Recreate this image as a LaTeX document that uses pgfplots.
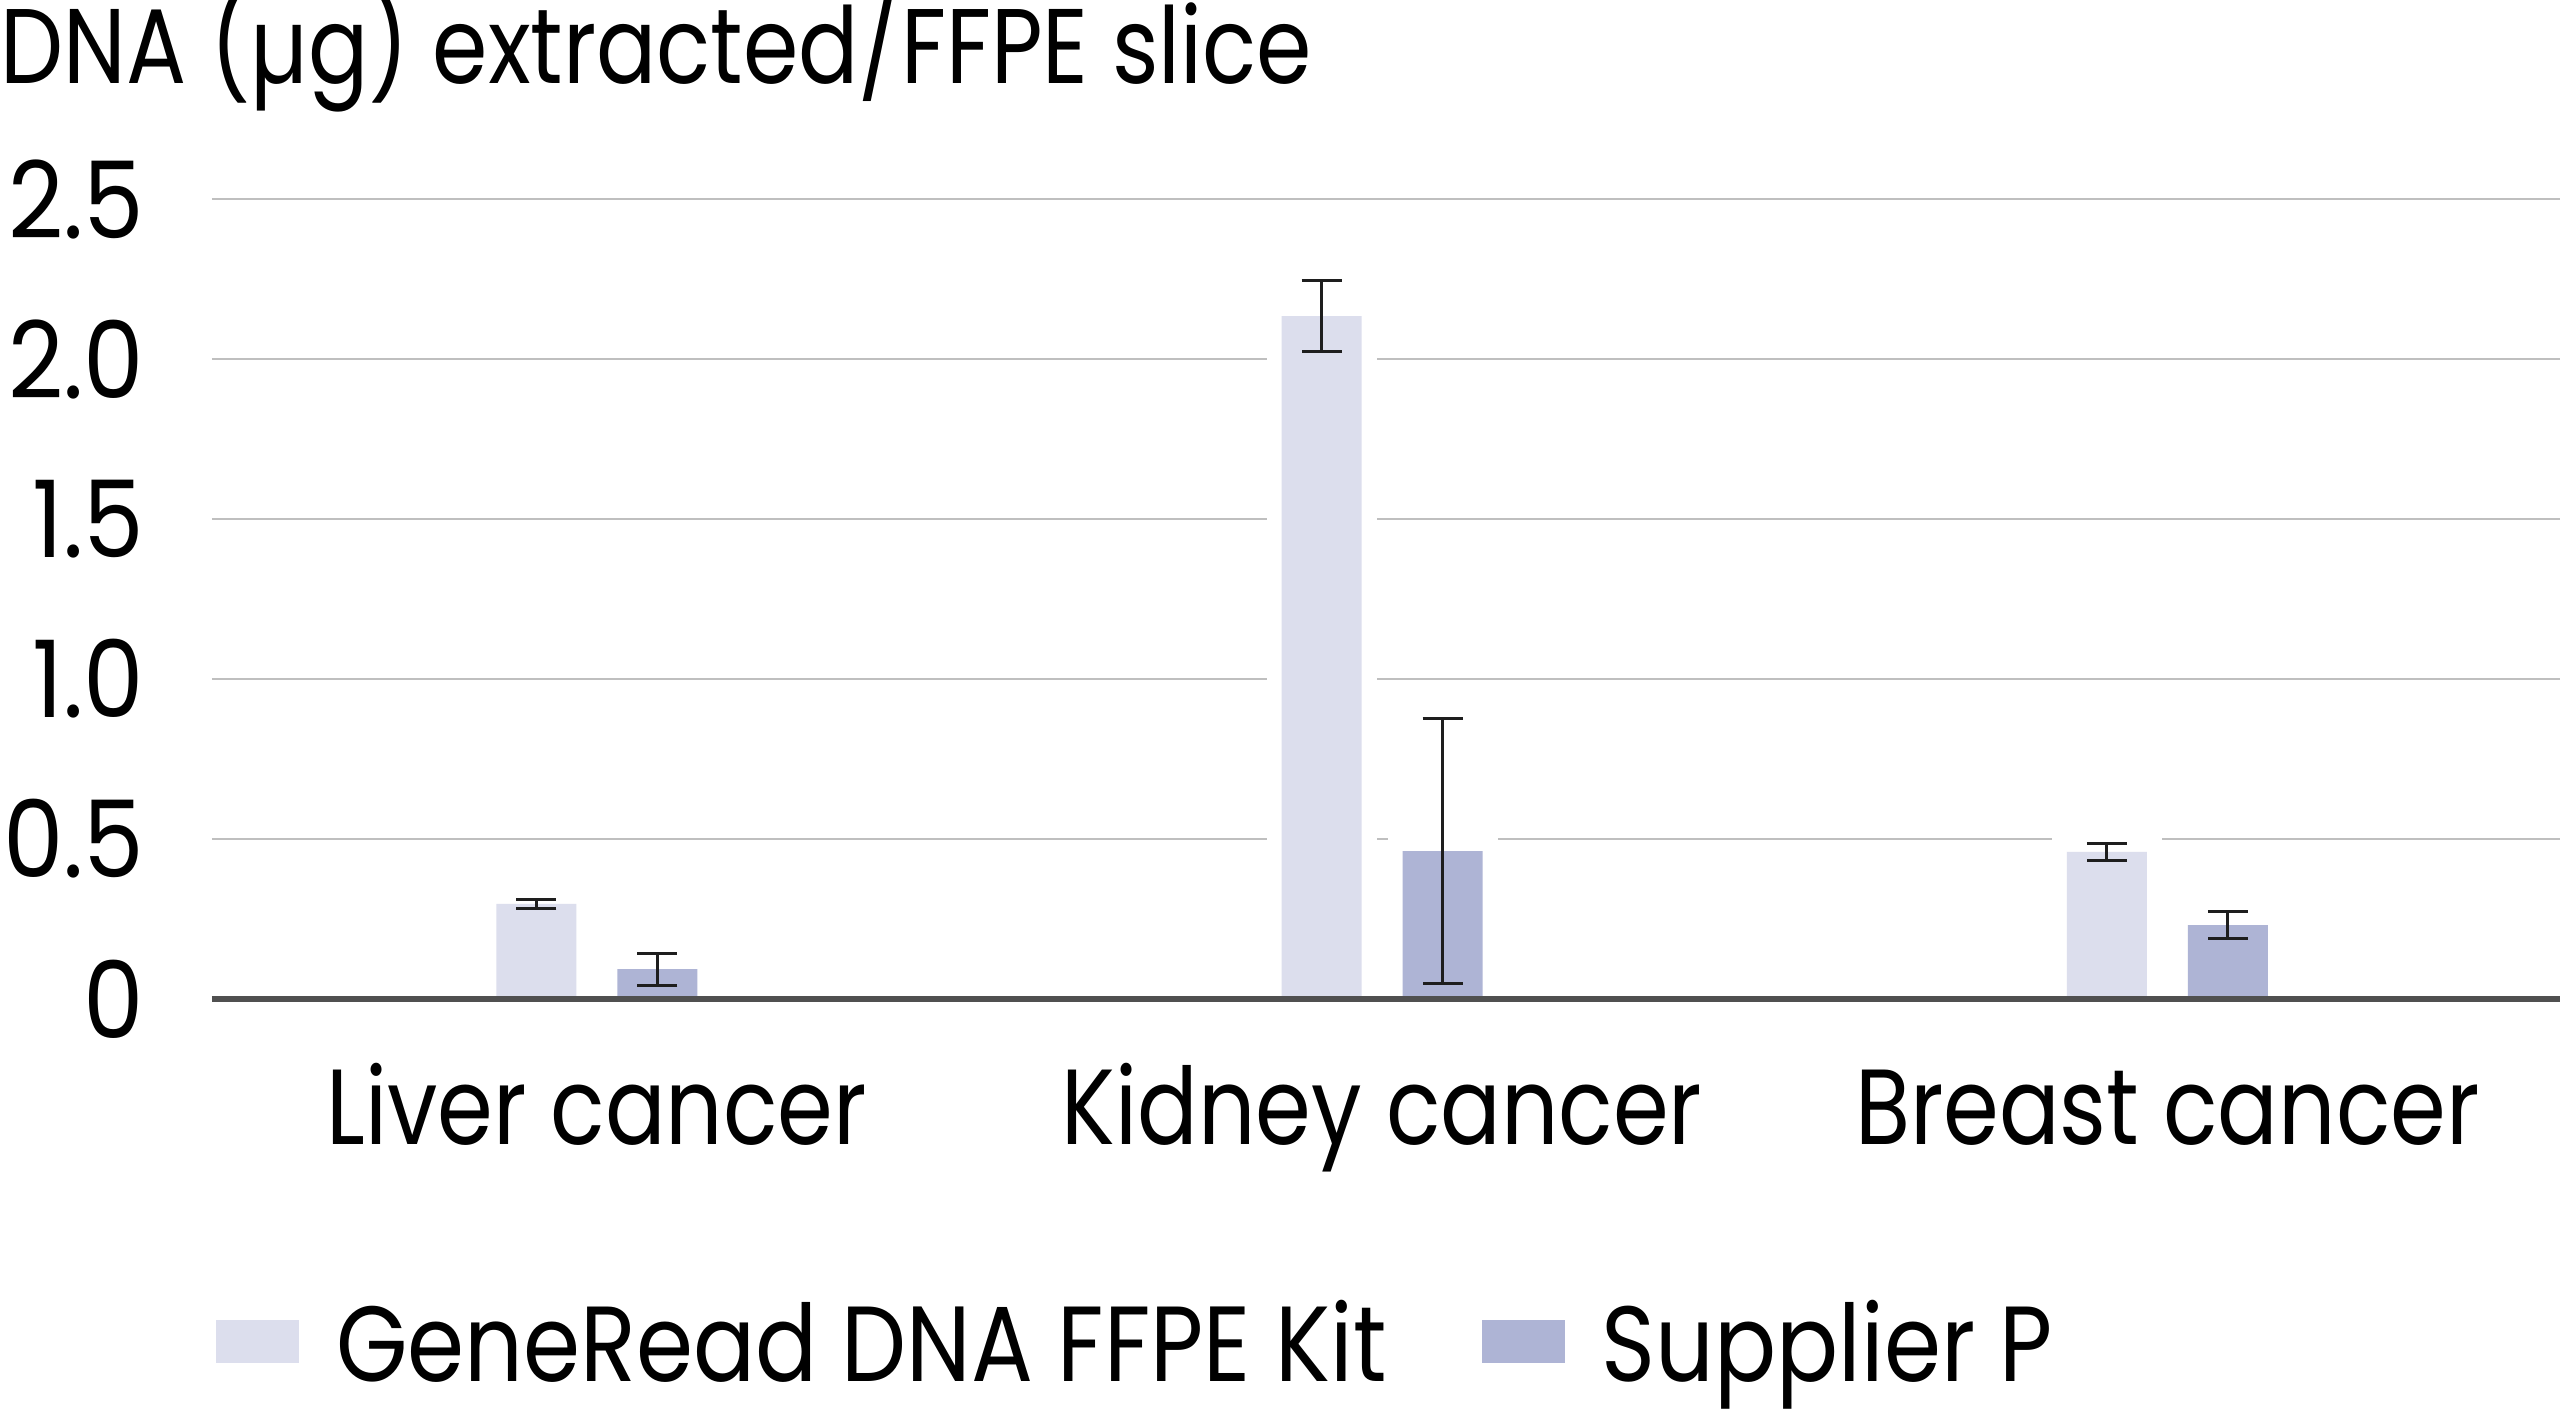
\documentclass[border=0pt]{standalone}
\usepackage{fontspec}
\setmainfont{Poppins}[FakeStretch=0.84]
\newfontfamily\tickfont{Poppins}[FakeStretch=0.9]
\newfontfamily\legfont{Poppins}[FakeStretch=0.86]
\usepackage{pgfplots}
\pgfplotsset{compat=1.18}
\definecolor{generead}{RGB}{220,222,237}
\definecolor{supplierp}{RGB}{174,180,213}
\definecolor{gridgray}{RGB}{191,191,191}
\definecolor{basegray}{RGB}{80,80,80}
\definecolor{errcol}{RGB}{30,30,30}

\begin{document}
\begin{tikzpicture}
\begin{axis}[
    at={(0,0)}, anchor=south west,
    scale only axis,
    width=23.48cm, height=8.0cm,
    ybar, bar width=0.8cm,
    xmin=-0.49, xmax=2.5,
    ymin=0, ymax=2.5,
    clip=false,
    axis line style={draw=none},
    tick style={draw=none},
    xtick={0,1,2},
    xticklabels={Liver cancer, Kidney cancer, Breast cancer},
    ytick={0,0.5,1,1.5,2,2.5},
    yticklabels={0,0.5,1.0,1.5,2.0,2.5},
    ymajorgrids,
    grid style={gridgray, line width=0.75pt},
    xticklabel style={anchor=base, inner sep=0pt, yshift=-1.30cm,
        font=\fontsize{30.4}{31}\selectfont},
    yticklabel style={anchor=east, inner sep=0pt, xshift=-0.67cm,
        font=\fontsize{30.4}{31}\tickfont},
    title={DNA (µg) extracted/FFPE slice},
    every axis title shift=0pt,
    title style={at={(axis description cs:-0.0903,1.145)}, anchor=base west,
        inner sep=0pt, font=\fontsize{30.2}{31}\selectfont},
    legend columns=2,
    legend style={at={(axis description cs:0.0013,-0.427)}, anchor=west,
        draw=none, fill=none, inner sep=0pt,
        font=\fontsize{30.4}{31}\legfont,
        nodes={inner sep=0pt, text depth=0pt},
        column sep=0.37cm,
        /tikz/every even column/.append style={column sep=0.95cm}},
    halo/.style={draw=none, preaction={draw=white, line width=0.3cm}},
    errs/.style={draw=none, fill=none, forget plot,
        error bars/.cd, y dir=both, y explicit,
        error bar style={draw=errcol, line width=0.85pt},
        error mark options={draw=errcol, rotate=90, mark size=0.2cm, line width=0.85pt},
        /pgfplots/.cd},
]
    % GeneRead DNA FFPE Kit
    \addplot[halo, fill=generead, bar shift=-0.605cm, forget plot]
        coordinates {(0,0.297) (1,2.134) (2,0.460)};
    % Supplier P
    \addplot[halo, fill=supplierp, bar shift=0.605cm, forget plot]
        coordinates {(0,0.093) (1,0.462) (2,0.231)};

    % error bars
    \addplot[bar shift=-0.605cm, errs] coordinates {
        (0,0.297) +- (0,0.014)
        (1,2.134) +- (0,0.110)
        (2,0.460) +- (0,0.027)
    };
    \addplot[bar shift=0.605cm, errs] coordinates {
        (0,0.093) +- (0,0.050)
        (1,0.462) +- (0,0.414)
        (2,0.231) +- (0,0.042)
    };

    % baseline
    \draw[basegray, line width=1.7pt] (rel axis cs:0,0) -- (rel axis cs:1,0);

    \addlegendimage{legend image code/.code={\fill[generead] (0cm,-0.22cm) rectangle (0.82cm,0.20cm);}}
    \addlegendentry{GeneRead DNA FFPE Kit}
    \addlegendimage{legend image code/.code={\fill[supplierp] (0cm,-0.22cm) rectangle (0.82cm,0.20cm);}}
    \addlegendentry{Supplier P}
\end{axis}
\pgfresetboundingbox
\path (-2.12,-4.15) rectangle (23.48,9.99);
\end{tikzpicture}
\end{document}
